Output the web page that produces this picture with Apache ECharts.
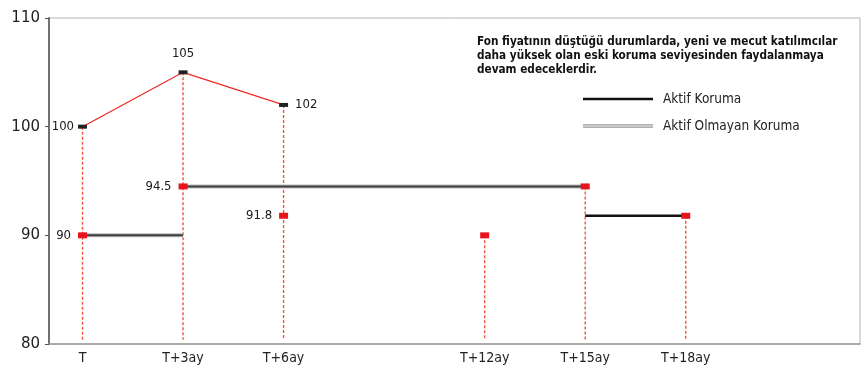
<!DOCTYPE html>
<html>
<head>
<meta charset="utf-8">
<script src="https://cdn.jsdelivr.net/npm/echarts@6/dist/echarts.min.js"></script>
<style>html,body{margin:0;padding:0;background:#fff}#c{width:867px;height:372px}</style>
</head>
<body>
<div id="c"></div>
<script>
// ---- data ----
var xTicks = [0, 3, 6, 12, 15, 18];
var xTickLabels = ['T', 'T+3ay', 'T+6ay', 'T+12ay', 'T+15ay', 'T+18ay'];
var priceX = [0, 3, 6];
var priceY = [100, 105, 102];
var protX = [0, 3, 6, 12, 15, 18];
var protY = [90, 94.5, 91.8, 90, 94.5, 91.8];
var protLabels = ['90', '94.5', '91.8', '', '', ''];
var dropX = [0, 3, 6, 12, 15, 18];
var dropTop = [100, 105, 102, 90, 94.5, 91.8];
var inactiveSegs = [[[0, 90], [3, 90]], [[3, 94.5], [15, 94.5]]];
var activeSegs = [[[15, 91.8], [18, 91.8]]];
var noteLines = ['Fon fiyatının düştüğü durumlarda, yeni ve mecut katılımcılar',
  'daha yüksek olan eski koruma seviyesinden faydalanmaya',
  'devam edeceklerdir.'];
var legendNames = ['Aktif Koruma', 'Aktif Olmayan Koruma'];

// ---- styles ----
var priceLabelPos = ['left', 'top', 'right'];
var priceLabelDist = [4, 10, 7];
var narrow = '"Liberation Sans Narrow","DejaVu Sans Condensed",sans-serif';
var red = '#e8141c';

var chart = echarts.init(document.getElementById('c'));

function segSeries(segs, name, color, width, z) {
  var data = [];
  segs.forEach(function (s, i) {
    if (i > 0) data.push(null);
    data.push(s[0], s[1]);
  });
  return {
    type: 'line', name: name, data: data, symbol: 'none', silent: true, z: z,
    connectNulls: false,
    lineStyle: { color: color, width: width }, animation: false
  };
}

var dropSeries = dropX.map(function (x, i) {
  return {
    type: 'line', data: [[x, dropTop[i]], [x, 80.4]], symbol: 'none', silent: true, z: 1,
    lineStyle: { color: '#f2553c', width: 1.4, type: [3, 2] }, animation: false
  };
});

var option = {
  animation: false,
  grid: { left: 49, right: 7, top: 18, bottom: 28, show: true, borderColor: '#b5b5b5', borderWidth: 1 },
  xAxis: {
    type: 'value', min: -1, max: 23.2,
    splitLine: { show: false },
    axisLine: { onZero: false, lineStyle: { color: '#9a9a9a', width: 1.5 } },
    axisTick: { show: false },
    axisLabel: {
      customValues: xTicks,
      formatter: function (v) { var i = xTicks.indexOf(v); return i >= 0 ? xTickLabels[i] : ''; },
      color: '#222', fontFamily: narrow, fontSize: 14, margin: 7
    }
  },
  yAxis: {
    type: 'value', min: 80, max: 110, interval: 10,
    splitLine: { show: false },
    axisLine: { show: true, onZero: false, lineStyle: { color: '#707070', width: 2 } },
    axisTick: { show: true, length: 4, lineStyle: { color: '#555' } },
    axisLabel: { color: '#222', fontSize: 15, fontFamily: 'DejaVu Sans', margin: 9 }
  },
  series: dropSeries.concat([
    segSeries(inactiveSegs, 'inactiveBase', '#b8b8b8', 4, 3),
    segSeries(inactiveSegs, 'inactive', '#404040', 2, 4),
    segSeries(activeSegs, 'active', '#111', 2.5, 4),
    {
      type: 'line', z: 5,
      data: priceX.map(function (x, i) {
        return { value: [x, priceY[i]], label: { position: priceLabelPos[i], distance: priceLabelDist[i] } };
      }),
      symbol: 'rect', symbolSize: [9, 4],
      itemStyle: { color: '#222' },
      lineStyle: { color: '#ee2a22', width: 1.2 },
      label: {
        show: true, formatter: function (p) { return p.value[1]; },
        color: '#1a1a1a', fontSize: 13, fontFamily: 'DejaVu Sans Condensed'
      }
    },
    {
      type: 'scatter', z: 6,
      data: protX.map(function (x, i) { return [x, protY[i]]; }),
      symbol: 'rect', symbolSize: [9, 6],
      itemStyle: { color: red, opacity: 1 },
      label: {
        show: true, position: 'left', distance: 7,
        formatter: function (p) { return protLabels[p.dataIndex]; },
        color: '#1a1a1a', fontSize: 13, fontFamily: 'DejaVu Sans Condensed'
      }
    }
  ]),
  graphic: [
    {
      type: 'text', left: 477, top: 35,
      style: {
        text: noteLines.join('\n'), fontFamily: narrow, fontWeight: 'bold',
        fontSize: 11.7, lineHeight: 14, fill: '#111'
      }
    },
    { type: 'line', shape: { x1: 583, y1: 99, x2: 653, y2: 99 }, style: { stroke: '#111', lineWidth: 2.5 } },
    { type: 'line', shape: { x1: 583, y1: 126, x2: 653, y2: 126 }, style: { stroke: '#b0b0b0', lineWidth: 4 } },
    { type: 'line', shape: { x1: 583, y1: 126, x2: 653, y2: 126 }, style: { stroke: '#e2e2e2', lineWidth: 1.2 } },
    {
      type: 'text', left: 663, top: 92,
      style: { text: legendNames[0], fontFamily: narrow, fontSize: 13.5, fill: '#222' }
    },
    {
      type: 'text', left: 663, top: 119,
      style: { text: legendNames[1], fontFamily: narrow, fontSize: 13.5, fill: '#222' }
    }
  ]
};
chart.setOption(option);
</script>
</body>
</html>
